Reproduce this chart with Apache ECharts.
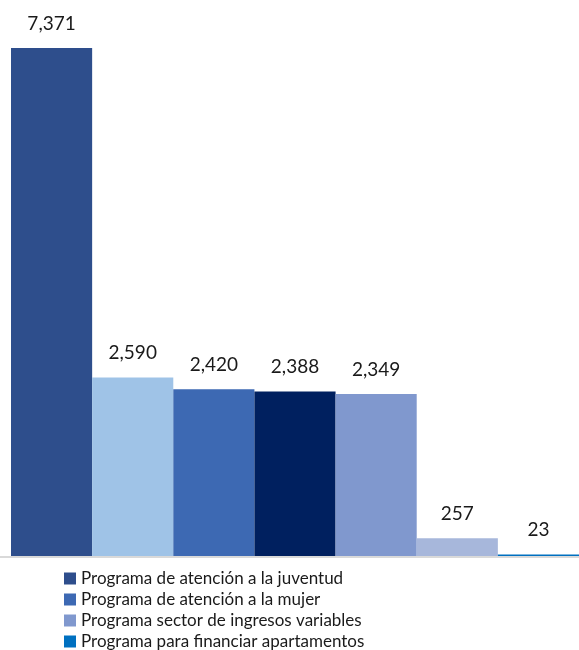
<!DOCTYPE html>
<html>
<head>
<meta charset="utf-8">
<script src="https://cdn.jsdelivr.net/npm/echarts@6/dist/echarts.min.js"></script>
<style>
  html, body { margin: 0; padding: 0; background: #fff; }
  #chart { width: 579px; height: 650px; }
</style>
</head>
<body>
<div id="chart"></div>
<script>
// datos
var programas = [
  "Programa de atención a la juventud",
  "Programa de vivienda",
  "Programa de atención a la mujer",
  "Programa de ahorro",
  "Programa sector de ingresos variables",
  "Programa de mejoramiento",
  "Programa para financiar apartamentos"
];
var valores = [7371, 2590, 2420, 2388, 2349, 257, 23];
var colores = ["#2e4e8c", "#9fc3e7", "#3d69b3", "#00205f", "#8098ce", "#a7b7db", "#0070c0"];
var leyenda = [
  "Programa de atención a la juventud",
  "Programa de atención a la mujer",
  "Programa sector de ingresos variables",
  "Programa para financiar apartamentos"
];

var myChart = echarts.init(document.getElementById("chart"));

var series = programas.map(function (nombre, i) {
  return {
    name: nombre,
    type: "bar",
    stack: "total",
    barCategoryGap: "0%",
    color: colores[i],
    data: valores.map(function (v, j) { return j === i ? v : "-"; }),
    label: {
      show: true,
      position: "top",
      distance: 15,
      color: "#1a1a1a",
      fontFamily: "Lato",
      fontSize: 19,
      formatter: function (p) { return p.value.toLocaleString("en-US"); }
    }
  };
});

var option = {
  animation: false,
  grid: { left: 11, right: -4, top: 48, bottom: 94 },
  legend: {
    data: leyenda,
    orient: "vertical",
    left: 64,
    top: 570,
    height: 200,
    padding: 0,
    itemWidth: 12,
    itemHeight: 12,
    itemGap: 4,
    icon: "rect",
    textStyle: { fontFamily: "Lato", fontSize: 17, color: "#1a1a1a", lineHeight: 17 }
  },
  xAxis: {
    type: "category",
    data: programas,
    axisLine: { show: false },
    axisTick: { show: false },
    axisLabel: { show: false }
  },
  yAxis: {
    type: "value",
    min: 0,
    max: 7371,
    show: false,
    splitLine: { show: false }
  },
  series: series
};

myChart.setOption(option);

// línea del eje horizontal
var y0 = myChart.convertToPixel({ yAxisIndex: 0 }, 0);
myChart.setOption({
  graphic: [{
    type: "rect",
    left: 0,
    top: y0,
    shape: { width: 579, height: 2 },
    style: { fill: "#d9d9d9" },
    z: 0
  }]
});
</script>
</body>
</html>
